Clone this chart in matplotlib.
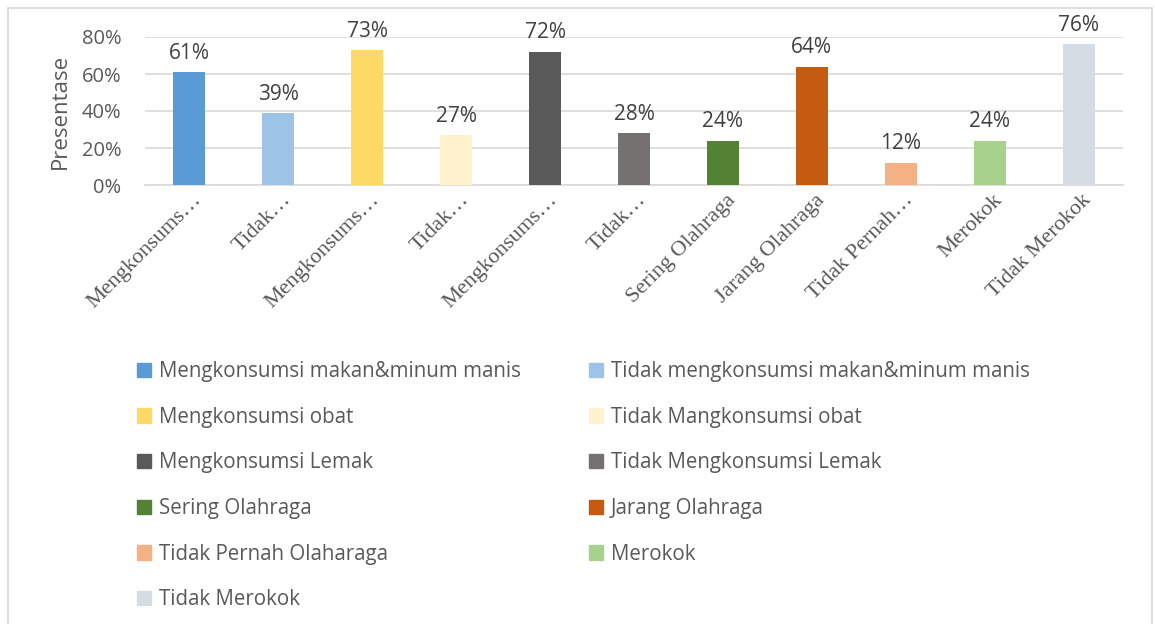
import numpy as np
import matplotlib.pyplot as plt
from matplotlib.patches import Rectangle, Patch
from matplotlib.transforms import ScaledTranslation

categories = ['Mengkonsumsi makan&minum manis', 'Tidak mengkonsumsi makan&minum manis',
              'Mengkonsumsi obat', 'Tidak Mangkonsumsi obat',
              'Mengkonsumsi Lemak', 'Tidak Mengkonsumsi Lemak',
              'Sering Olahraga', 'Jarang Olahraga',
              'Tidak Pernah Olaharaga', 'Merokok', 'Tidak Merokok']
tick_labels = ['Mengkonsums…', 'Tidak…', 'Mengkonsums…', 'Tidak…', 'Mengkonsums…', 'Tidak…',
               'Sering Olahraga', 'Jarang Olahraga', 'Tidak Pernah…', 'Merokok', 'Tidak Merokok']
values = [0.61, 0.39, 0.73, 0.27, 0.72, 0.28, 0.24, 0.64, 0.12, 0.24, 0.76]
colors = ['#5B9BD5', '#9DC3E6', '#FFD966', '#FFF2CC', '#595959', '#767171',
          '#548235', '#C55A11', '#F4B183', '#A9D18E', '#D6DCE4']

W, H = 1155, 624
fig = plt.figure(figsize=(W / 100, H / 100), dpi=100)
sans = ['Open Sans', 'DejaVu Sans']
grey = '#595959'

# frame around the chart
fig.patches.append(Rectangle((8 / W, -0.05), 1144 / W, 1 - 8 / H + 0.05, transform=fig.transFigure,
                             fill=False, edgecolor='#D9D9D9', lw=1.2))

ax = fig.add_axes([145 / W, 1 - 185 / H, (1123 - 145) / W, (185 - 37) / H])
x = np.arange(len(values))
bars = ax.bar(x, values, width=0.36, color=colors, zorder=3)
ax.set_xlim(-0.5, len(values) - 0.5)
ax.set_ylim(0, 0.8)
ax.set_yticks([0, 0.2, 0.4, 0.6, 0.8])
ax.set_yticklabels(['0%', '20%', '40%', '60%', '80%'], fontsize=14.5, color=grey, family=sans)
ax.yaxis.grid(True, color='#D9D9D9', lw=1.2, zorder=0)
for s in ['top', 'right', 'left']:
    ax.spines[s].set_visible(False)
ax.spines['bottom'].set_color('#D9D9D9')
ax.spines['bottom'].set_linewidth(1.2)
ax.tick_params(axis='y', length=0, pad=17)
ax.tick_params(axis='x', length=0, pad=4)
ax.set_xticks(x)
ax.set_xticklabels(tick_labels, rotation=45, ha='right', rotation_mode='anchor',
                   fontsize=16, color=grey, family=['Liberation Serif', 'DejaVu Serif'])
shift = ScaledTranslation(0.03, 0, fig.dpi_scale_trans)
for lab in ax.get_xticklabels():
    lab.set_transform(lab.get_transform() + shift)
ax.set_ylabel('Presentase', fontsize=16, color=grey, family=sans, labelpad=8)

for xi, v in zip(x, values):
    ax.text(xi, v + 0.045, f'{round(v * 100)}%', ha='center', va='bottom',
            fontsize=15, color='#404040', family=sans)

handles = [Patch(color=c) for c in colors]
for start, x0 in [(0, 137), (1, 589)]:
    idx = list(range(start, len(categories), 2))
    fig.legend([handles[i] for i in idx], [categories[i] for i in idx],
               loc='upper left', bbox_to_anchor=(x0 / W, 1 - 361 / H), frameon=False,
               prop={'family': sans, 'size': 14.8}, labelcolor=grey,
               handlelength=0.7, handleheight=0.7, handletextpad=0.35,
               labelspacing=1.2, borderaxespad=0, borderpad=0)

fig.savefig('out.png', dpi=100)
